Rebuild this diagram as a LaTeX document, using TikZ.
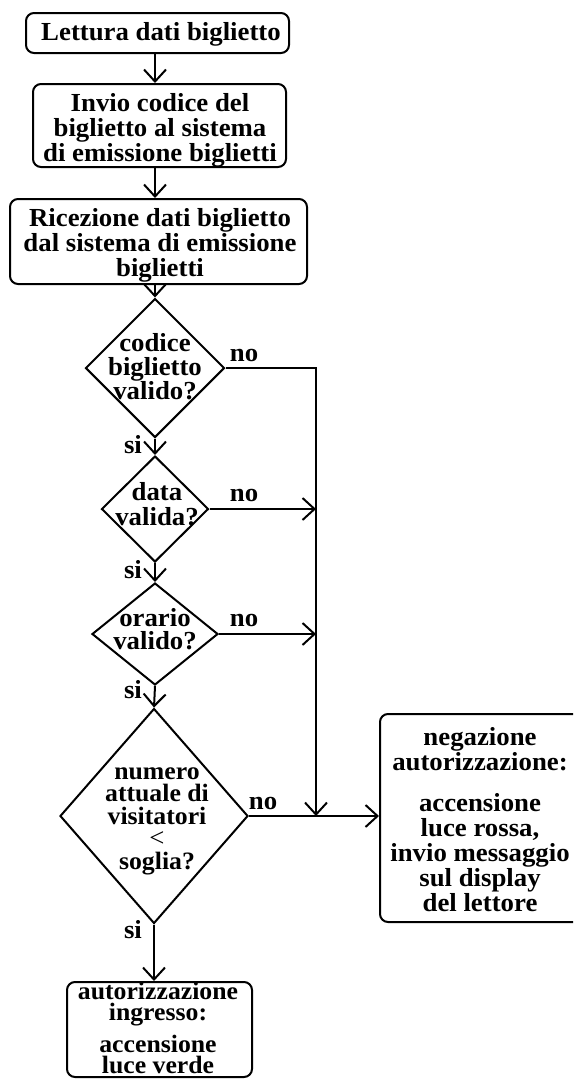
\documentclass[tikz,border=0pt]{standalone}
\usepackage{fontspec}
\setmainfont{Liberation Serif}[FakeStretch=1.03]
\usetikzlibrary{shapes.geometric,arrows.meta}
\begin{document}
\begin{tikzpicture}[x=1pt,y=-1pt,
  every node/.style={font=\fontsize{26}{25}\selectfont\bfseries},
  box/.style={draw,line width=2pt,rounded corners=8pt,inner sep=0pt},
  dia/.style={draw,line width=2pt,diamond,inner sep=0pt},
  txt/.style={inner sep=0pt,align=center},
  lbl/.style={inner sep=0pt},
  conn/.style={line width=2pt,-{Straight Barb[length=12pt,width=22pt,line width=2pt]}},
  line/.style={line width=2pt}]
\useasboundingbox (0,0) rectangle (573,1079);
\clip (0,0) rectangle (573,1079);
% boxes
\node[box,minimum width=263pt,minimum height=40pt] (b1) at (157.5,33) {};
\node[txt] (tb1) at (161,34) {Lettura dati biglietto};
\node[box,minimum width=253pt,minimum height=83pt] (b2) at (159.5,125.5) {};
\node[txt] (tb2) at (160,130) {Invio codice del\\biglietto al sistema\\di emissione biglietti};
\node[box,minimum width=297pt,minimum height=85pt] (b3) at (158.5,241.5) {};
\node[txt] (tb3) at (160,245) {Ricezione dati biglietto\\dal sistema di emissione\\biglietti};
% diamonds
\node[dia,minimum width=139pt,minimum height=139pt] (d1) at (155,368) {};
\node[txt,font=\fontsize{26}{23.5}\selectfont\bfseries] (t1) at (155,367) {codice\\biglietto\\valido?};
\node[dia,minimum width=107pt,minimum height=106pt] (d2) at (155,509) {};
\node[txt,font=\fontsize{26}{25}\selectfont\bfseries] (t2) at (157,504) {data\\valida?};
\node[dia,minimum width=126pt,minimum height=102pt] (d3) at (155,634) {};
\node[txt,font=\fontsize{26}{23}\selectfont\bfseries] (t3) at (155,629) {orario\\valido?};
\node[dia,minimum width=188pt,minimum height=215pt] (d4) at (154,816) {};
\node[txt,font=\fontsize{25}{22.5}\selectfont\bfseries] (t4) at (157,821) {numero\\attuale di\\visitatori\\{\fontsize{26}{20}\selectfont\mdseries <}\\soglia?};
% end boxes
\node[box,minimum width=212pt,minimum height=208pt] (neg) at (486,818) {};
\node[txt] (tneg) at (480,820) {negazione\\autorizzazione:\\[16pt]accensione\\luce rossa,\\invio messaggio\\sul display\\del lettore};
\node[box,minimum width=185pt,minimum height=95pt] (ok) at (159.5,1029.5) {};
\node[txt,font=\fontsize{25}{21.5}\selectfont\bfseries] (tok) at (158,1028) {autorizzazione\\ingresso:\\[8pt]accensione\\luce verde};
% junction
\coordinate (jn) at (316,816);
% connectors
\draw[conn] (b1.south -| d1.north) -- (b2.north -| d1.north);
\draw[conn] (b2.south -| d1.north) -- (b3.north -| d1.north);
\draw[conn] (b3.south -| d1.north) -- (d1.north);
\draw[conn] (d1.south) -- (d2.north);
\draw[conn] (d2.south) -- (d3.north);
\draw[conn] (d3.south) -- (d4.north);
\draw[conn] (d4.south) -- (ok.north -| d4.south);
\draw[conn] (d1.east) -| (jn);
\draw[conn] (d2.east) -- (d2.east -| jn);
\draw[conn] (d3.east) -- (d3.east -| jn);
\draw[conn] (d4.east) -- (d4.east -| neg.west);
% labels
\node[lbl] (no1) at (244,355) {no};
\node[lbl] (no2) at (244,495) {no};
\node[lbl] (no3) at (244,620) {no};
\node[lbl] (no4) at (263,803) {no};
\node[lbl] (si1) at (133,445) {si};
\node[lbl] (si2) at (133,570) {si};
\node[lbl] (si3) at (133,690) {si};
\node[lbl] (si4) at (133,930) {si};
\end{tikzpicture}
\end{document}
